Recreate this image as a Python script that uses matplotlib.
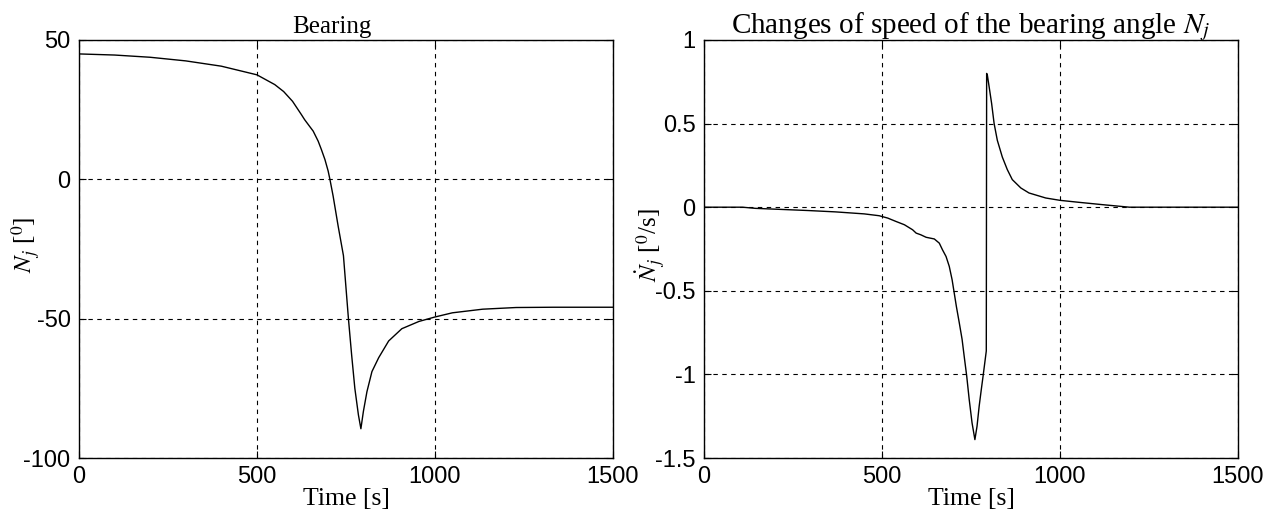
import matplotlib.pyplot as plt

# bearing angle N_j [deg] vs time [s]
t_bear = [0, 100, 200, 300, 400, 500, 550, 575, 600, 625, 634, 648, 658, 672, 681,
          691, 700, 705, 714, 728, 743, 757, 766, 775, 785, 792, 799, 809, 823,
          842, 870, 907, 955, 1000, 1049, 1134, 1228, 1332, 1500]
n_bear = [45, 44.6, 43.8, 42.5, 40.6, 37.5, 34, 31.5, 28, 23.2, 21.4, 19, 17.3, 13.7,
          10.7, 7.1, 3, 0, -6, -16.7, -27.4, -50, -63, -75, -84.5, -89.5, -83.3,
          -76.2, -69, -64, -58, -53.6, -51, -49.4, -47.9, -46.6, -46, -45.9, -45.9]

# rate of change of bearing angle [deg/s]
t_rate = [0, 108, 145, 293, 369, 450, 492, 516, 539, 563, 586, 596, 609, 624, 647,
          661, 670, 680, 689, 697, 703, 709, 717, 725, 731, 738, 745, 753, 761,
          767, 773, 779, 784, 790, 793, 794, 796, 801, 808, 815, 824, 838, 852,
          866, 890, 913, 960, 1000, 1054, 1120, 1195, 1500]
v_rate = [0, 0, -0.007, -0.02, -0.028, -0.04, -0.051, -0.065, -0.085, -0.105,
          -0.135, -0.155, -0.165, -0.18, -0.19, -0.215, -0.255, -0.295, -0.354,
          -0.434, -0.514, -0.594, -0.69, -0.79, -0.893, -1.01, -1.15, -1.29, -1.39,
          -1.31, -1.19, -1.09, -1.01, -0.91, -0.86, 0.80, 0.79, 0.72, 0.62, 0.50,
          0.40, 0.30, 0.225, 0.165, 0.115, 0.085, 0.055, 0.041, 0.029, 0.015, 0, 0]

plt.rcParams['mathtext.fontset'] = 'stix'
tick_font = 'Liberation Sans'
serif = 'Liberation Serif'

fig = plt.figure(figsize=(12.73, 5.22), dpi=100)
ax1 = fig.add_axes([0.062, 0.1226, 0.4195, 0.8008])
ax2 = fig.add_axes([0.553, 0.1226, 0.4195, 0.8008])

ax1.plot(t_bear, n_bear, color='black', linewidth=1.0)
ax1.set_ylim(-100, 50)
ax1.set_yticks([-100, -50, 0, 50])
ax1.set_yticklabels(['-100', '-50', '0', '50'])
ax1.set_title('Bearing', fontfamily=serif, fontsize=18, pad=5, x=0.474)
ax1.set_ylabel(r'$N_j$ [$^0$]', fontfamily=serif, fontsize=18)
ax1.yaxis.set_label_coords(-0.069, 0.51)

ax2.plot(t_rate, v_rate, color='black', linewidth=1.0)
ax2.set_ylim(-1.5, 1)
ax2.set_yticks([-1.5, -1, -0.5, 0, 0.5, 1])
ax2.set_yticklabels(['-1.5', '-1', '-0.5', '0', '0.5', '1'])
ax2.set_title(r'Changes of speed of the bearing angle $N_j$', fontfamily=serif,
              fontsize=21, pad=5)
ax2.set_ylabel(r'$\dot{N}_j$ [$^0$/s]', fontfamily=serif, fontsize=18)
ax2.yaxis.set_label_coords(-0.07, 0.51)

for ax in (ax1, ax2):
    ax.set_xlim(0, 1500)
    ax.set_xticks([0, 500, 1000, 1500])
    ax.set_xticklabels(['0', '500', '1000', '1500'])
    ax.grid(True, color='black', linestyle=(0, (4, 4)), linewidth=0.8)
    ax.tick_params(direction='in', length=5, width=0.8, top=True, right=True,
                   labelsize=17, pad=6)
    for lab in ax.get_xticklabels() + ax.get_yticklabels():
        lab.set_fontfamily(tick_font)
    for s in ax.spines.values():
        s.set_linewidth(1.0)
    ax.set_xlabel('Time [s]', fontfamily=serif, fontsize=18.5, labelpad=0)

fig.savefig('out.png', dpi=100)
